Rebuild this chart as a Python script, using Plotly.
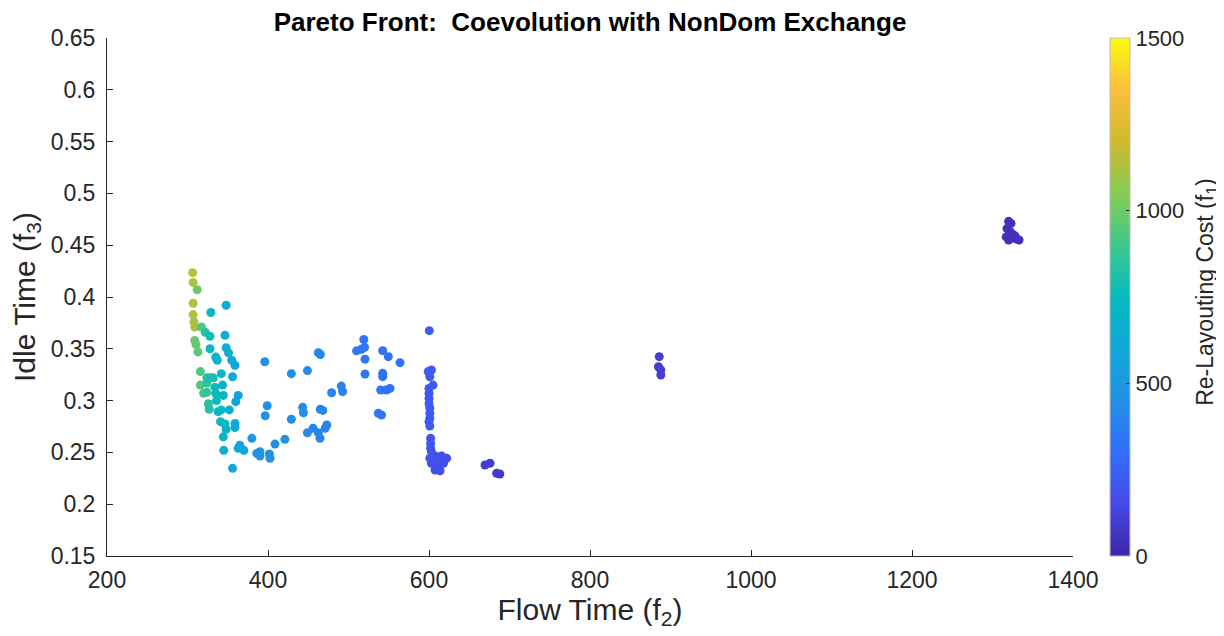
import plotly.graph_objects as go

# Flow time (f2), idle time (f3), re-layouting cost (f1)
flow_time = [
    306.4, 307, 312, 307, 348, 329, 307, 308, 309, 317.5, 322, 328, 346.6, 309, 310.6, 313, 328, 348, 351, 335,
    337, 355, 359, 316, 324, 332, 342, 356, 316, 324, 334, 343.6, 320, 324, 335, 344.5, 363, 360, 336, 326,
    327, 338, 342, 352, 341, 346.6, 359, 359, 348, 344.5, 365, 370, 363, 345, 356, 328,
    380, 386, 396, 429, 449, 399, 396.6, 443, 444, 429, 449, 421, 408.7, 390, 390, 401.6, 402.5, 462.5, 465,
    465, 468, 473, 471, 456, 462.5, 464.6, 491, 479, 492.7,
    519, 510, 516, 520, 520.5, 542.5, 549.5, 564, 520.5, 542.5, 542.5, 540, 547, 551.5, 537, 541,
    600.4, 599, 603, 601, 605, 600, 600, 600, 601, 601, 601, 601, 602, 602, 602, 603, 605, 609, 615.6, 622,
    618, 611.6, 607.5, 613.7, 603, 601, 600, 600, 610,
    669.6, 675.8, 684, 688,
    886, 885, 888, 888,
    1320, 1323, 1318, 1322, 1326, 1320, 1325, 1330, 1333, 1328, 1317,
]
idle_time = [
    0.4235, 0.414, 0.407, 0.394, 0.392, 0.385, 0.383, 0.376, 0.371, 0.371, 0.366, 0.362, 0.363, 0.358, 0.354, 0.347, 0.350, 0.351, 0.346, 0.342,
    0.339, 0.339, 0.334, 0.328, 0.322, 0.322, 0.326, 0.323, 0.315, 0.317, 0.313, 0.315, 0.307, 0.308, 0.307, 0.305, 0.305, 0.299, 0.300, 0.297,
    0.2916, 0.2893, 0.291, 0.291, 0.2797, 0.2774, 0.278, 0.274, 0.2723, 0.265, 0.257, 0.252, 0.254, 0.252, 0.2346, 0.322,
    0.2636, 0.249, 0.3375, 0.326, 0.329, 0.295, 0.2854, 0.2935, 0.2883, 0.282, 0.269, 0.2626, 0.258, 0.2507, 0.2465, 0.2485, 0.2443, 0.3462, 0.3445,
    0.2916, 0.2905, 0.2765, 0.2733, 0.2733, 0.269, 0.2636, 0.314, 0.3076, 0.3086,
    0.359, 0.348, 0.3495, 0.3514, 0.340, 0.3482, 0.3424, 0.3366, 0.3257, 0.3263, 0.3231, 0.3102, 0.3102, 0.3118, 0.2877, 0.2861,
    0.3675, 0.328, 0.3295, 0.323, 0.315, 0.3118, 0.302, 0.297, 0.2926, 0.2877, 0.2829, 0.2755, 0.2636, 0.2587, 0.254, 0.2507, 0.2475, 0.246, 0.2465, 0.2443,
    0.2395, 0.2362, 0.233, 0.2323, 0.2395, 0.2443, 0.307, 0.2795, 0.241,
    0.2378, 0.2395, 0.2298, 0.2292,
    0.3424, 0.3327, 0.3295, 0.3247,
    0.473, 0.471, 0.466, 0.463, 0.460, 0.455, 0.457, 0.456, 0.455, 0.459, 0.458,
]
relayout_cost = [
    1140, 1130, 990, 1135, 640, 720, 1130, 1120, 1120, 930, 840, 780, 640, 990, 980, 950, 730, 650, 640, 690,
    680, 620, 610, 930, 850, 780, 740, 620, 940, 850, 760, 700, 910, 870, 760, 720, 560, 570, 760, 830,
    830, 740, 740, 660, 740, 700, 620, 620, 690, 700, 590, 580, 600, 680, 620, 800,
    500, 480, 450, 440, 430, 460, 460, 440, 440, 450, 430, 450, 460, 480, 480, 470, 470, 410, 410,
    410, 410, 400, 400, 410, 410, 410, 390, 390, 390,
    330, 340, 335, 330, 330, 320, 320, 310, 330, 320, 320, 325, 320, 320, 330, 330,
    230, 220, 220, 220, 215, 220, 220, 220, 220, 220, 215, 215, 200, 200, 195, 190, 185, 180, 170, 170,
    170, 170, 175, 170, 185, 195, 220, 215, 175,
    90, 90, 85, 85,
    100, 100, 100, 100,
    50, 50, 50, 50, 50, 50, 50, 50, 50, 50, 50,
]

x_ticks = [200, 400, 600, 800, 1000, 1200, 1400]
y_ticks = [0.15, 0.2, 0.25, 0.3, 0.35, 0.4, 0.45, 0.5, 0.55, 0.6, 0.65]
y_tick_text = ["0.15", "0.2", "0.25", "0.3", "0.35", "0.4", "0.45", "0.5", "0.55", "0.6", "0.65"]
cbar_ticks = [0, 500, 1000, 1500]

parula = [
    [0.0, "rgb(62,38,168)"],
    [0.1, "rgb(71,74,232)"],
    [0.2, "rgb(50,110,250)"],
    [0.3, "rgb(35,143,230)"],
    [0.4, "rgb(16,168,215)"],
    [0.5, "rgb(6,186,190)"],
    [0.6, "rgb(62,200,140)"],
    [0.7, "rgb(135,203,85)"],
    [0.8, "rgb(205,186,45)"],
    [0.9, "rgb(253,190,60)"],
    [1.0, "rgb(249,251,14)"],
]

font_family = "Liberation Sans, Arial, sans-serif"
ink = "#262626"

fig = go.Figure(
    go.Scatter(
        x=flow_time,
        y=idle_time,
        mode="markers",
        marker=dict(
            size=9,
            color=relayout_cost,
            colorscale=parula,
            cmin=0,
            cmax=1500,
            line=dict(width=0),
            colorbar=dict(
                x=1.038,
                xanchor="left",
                y=0,
                yanchor="bottom",
                len=1,
                lenmode="fraction",
                ypad=0,
                xpad=0,
                thickness=20,
                thicknessmode="pixels",
                outlinewidth=1,
                outlinecolor="#bdbdbd",
                tickvals=cbar_ticks,
                ticks="inside",
                ticklen=4,
                tickcolor=ink,
                tickfont=dict(family=font_family, size=22, color=ink),
            ),
        ),
        showlegend=False,
    )
)

axis_common = dict(
    showline=True,
    linecolor=ink,
    linewidth=1,
    ticks="inside",
    ticklen=6,
    tickcolor=ink,
    showgrid=False,
    zeroline=False,
    mirror=False,
    automargin=False,
    tickfont=dict(family=font_family, size=23, color=ink),
)

# page body has an 8px margin, so the figure is offset by 8px right and down
fig.update_layout(
    width=1224,
    height=636,
    margin=dict(l=99, r=159, t=30, b=88, autoexpand=False),
    paper_bgcolor="white",
    plot_bgcolor="white",
    title=dict(
        text="<b>Pareto Front:&nbsp; Coevolution with NonDom Exchange</b>",
        x=0.5,
        xref="paper",
        xanchor="center",
        y=0.978,
        yref="container",
        yanchor="middle",
        font=dict(family=font_family, size=26, color="black"),
    ),
    xaxis=dict(
        range=[200, 1400],
        tickvals=x_ticks,
        ticklabelstandoff=3,
        title=dict(text="Flow Time (f<sub>2</sub>)", font=dict(family=font_family, size=30, color=ink), standoff=4),
        **axis_common,
    ),
    yaxis=dict(
        range=[0.15, 0.65],
        tickvals=y_ticks,
        ticktext=y_tick_text,
        ticklabelstandoff=6,
        title=dict(text="Idle Time (f<sub>3</sub>)", font=dict(family=font_family, size=30, color=ink), standoff=8),
        **axis_common,
    ),
    annotations=[
        dict(
            text="Re-Layouting Cost (f<sub>1</sub>)",
            xref="paper",
            yref="paper",
            x=1.1387,
            y=0.51,
            xanchor="center",
            yanchor="middle",
            textangle=-90,
            showarrow=False,
            font=dict(family=font_family, size=23, color=ink),
        )
    ],
)

fig.write_html("out.html")
